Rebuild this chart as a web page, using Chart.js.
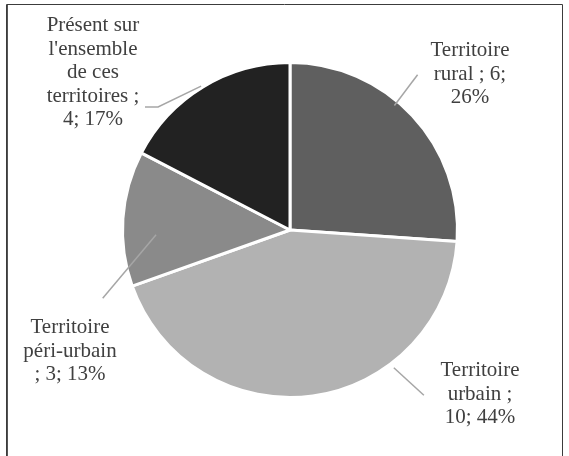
<!DOCTYPE html>
<html>
<head>
<meta charset="utf-8">
<script src="https://cdn.jsdelivr.net/npm/chart.js@4.4.1/dist/chart.umd.min.js"></script>
<style>
  html, body { margin:0; padding:0; background:#fff; }
  #wrap { width:569px; height:456px; position:relative; }
  #pie { position:absolute; left:0; top:0; }
  .lbl { position:absolute; width:200px; text-align:center; white-space:pre-line;
         font-family:"Times New Roman", Tinos, "Liberation Serif", Times, serif; font-size:21px; line-height:23.5px; color:#404040; }
</style>
</head>
<body>
<div id="wrap">
  <canvas id="pie" width="569" height="456"></canvas>
</div>
<script>
// ── DATA ──────────────────────────────────────────────
var categories = ['Territoire rural', 'Territoire urbain', 'Territoire péri-urbain', "Présent sur l'ensemble de ces territoires"];
var counts     = [6, 10, 3, 4];
var percents   = [26, 44, 13, 17];
var labelLines = [
  ['Territoire', 'rural ; 6;', '26%'],
  ['Territoire', 'urbain ;', '10; 44%'],
  ['Territoire', 'péri-urbain', '; 3; 13%'],
  ['Présent sur', "l'ensemble", 'de ces', 'territoires ;', '4; 17%']
];
var sliceColors = ['#5f5f5f', '#b2b2b2', '#8a8a8a', '#222222'];

// label layout: text block centre (first line) + leader line as [angleDeg from top, radius factor]
var labelLayout = [
  { x:470, y:50,  leader:[[40, 0.97], [39.4, 1.20]] },
  { x:480, y:370, leader:[[143, 1.03], [141, 1.27]] },
  { x:70,  y:327, leader:[[268, 0.80], [250, 1.19]] },
  { x:93,  y:25,  leader:[[328.3, 1.01], [313, 1.077], [310.3, 1.135]] }
];

// ── PLUGINS ───────────────────────────────────────────
var framePlugin = {
  id:'frame',
  beforeDraw:function(chart){
    var ctx = chart.ctx;
    ctx.save();
    ctx.strokeStyle = '#3c3c3c';
    ctx.lineWidth = 1;
    ctx.beginPath();
    ctx.moveTo(6.5, 456); ctx.lineTo(6.5, 4.5); ctx.lineTo(562.5, 4.5); ctx.lineTo(562.5, 456);
    ctx.stroke();
    ctx.beginPath();
    ctx.strokeStyle = '#555';
    ctx.moveTo(7.5, 5); ctx.lineTo(7.5, 456);
    ctx.stroke();
    ctx.restore();
  }
};

var leaderPlugin = {
  id:'leaders',
  afterDatasetsDraw:function(chart){
    var ctx = chart.ctx;
    var arc = chart.getDatasetMeta(0).data[0];
    var cx = arc.x, cy = arc.y, r = arc.outerRadius;
    ctx.save();
    ctx.strokeStyle = '#a6a6a6';
    ctx.lineWidth = 1.5;
    labelLayout.forEach(function(l){
      ctx.beginPath();
      l.leader.forEach(function(p, k){
        var a = p[0] * Math.PI / 180;
        var px = cx + Math.sin(a) * r * p[1];
        var py = cy - Math.cos(a) * r * p[1];
        if(k === 0) ctx.moveTo(px, py); else ctx.lineTo(px, py);
      });
      ctx.stroke();
    });
    ctx.restore();
  }
};

// ── CHART ─────────────────────────────────────────────
new Chart(document.getElementById('pie'), {
  type:'pie',
  data:{
    labels:categories,
    datasets:[{ data:counts, backgroundColor:sliceColors, borderColor:'#ffffff', borderWidth:3 }]
  },
  options:{
    responsive:false, animation:false,
    layout:{ padding:{ top:61, bottom:57, left:121, right:110 } },
    plugins:{ legend:{ display:false }, tooltip:{ enabled:false } }
  },
  plugins:[framePlugin, leaderPlugin]
});

// data labels as text over the canvas
var wrap = document.getElementById('wrap');
labelLines.forEach(function(lines, i){
  var l = labelLayout[i];
  var div = document.createElement('div');
  div.className = 'lbl';
  div.style.left = (l.x - 100) + 'px';
  div.style.top = (l.y - 11.75) + 'px';
  div.textContent = lines.join('\n');
  wrap.appendChild(div);
});
</script>
</body>
</html>
